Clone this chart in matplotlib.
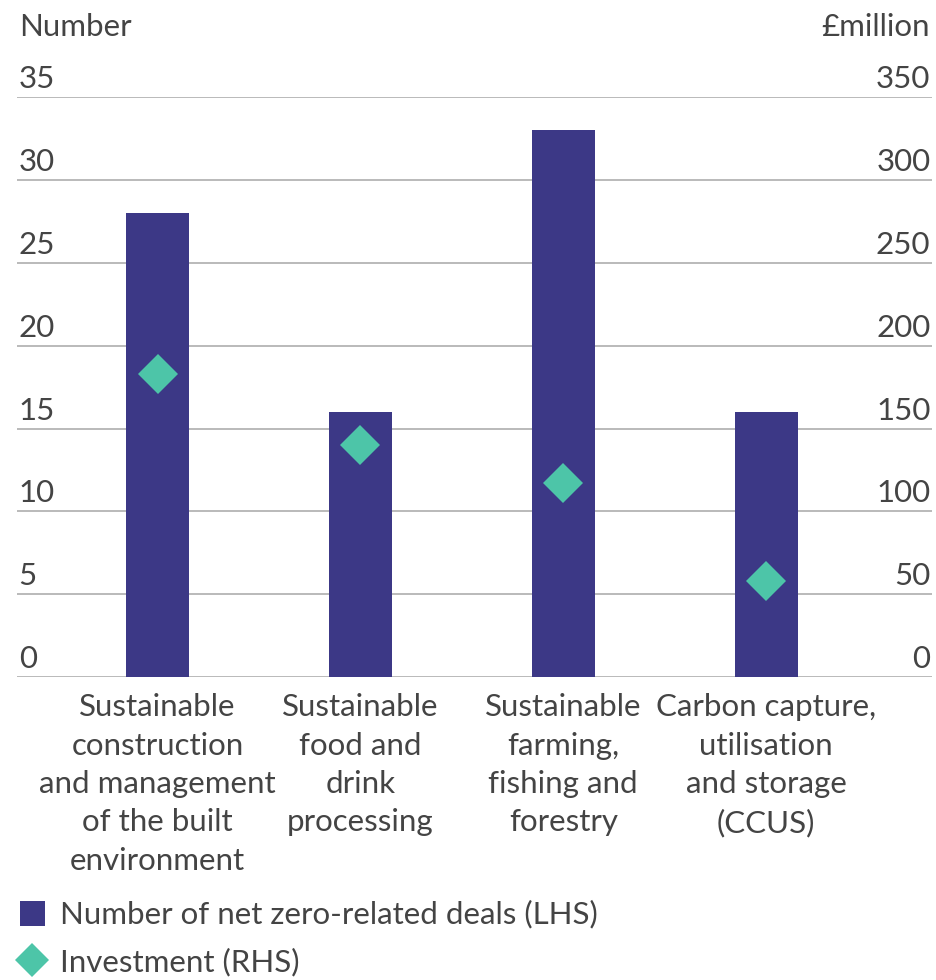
import matplotlib
matplotlib.use("Agg")
import matplotlib.pyplot as plt
from matplotlib.lines import Line2D
from matplotlib.transforms import blended_transform_factory, offset_copy

plt.rcParams['font.family'] = ['Lato', 'DejaVu Sans']

categories = [
    "Sustainable\nconstruction\nand management\nof the built\nenvironment",
    "Sustainable\nfood and\ndrink\nprocessing",
    "Sustainable\nfarming,\nfishing and\nforestry",
    "Carbon capture,\nutilisation\nand storage\n(CCUS)",
]
deals = [28, 16, 33, 16]            # number of deals (LHS)
investment = [183, 140, 117, 58]    # £million (RHS)
left_ticks = [0, 5, 10, 15, 20, 25, 30, 35]
right_ticks = [0, 50, 100, 150, 200, 250, 300, 350]

BAR = "#3C3886"
DIAMOND = "#4DC5A8"
TEXT = "#444444"
GRID = "#B4B4B4"
FS = 22.5
WEIGHT = "normal"

fig = plt.figure(figsize=(9.36, 9.8), dpi=100)
ax = fig.add_axes([0.018, 0.309, 0.978, 0.592])
ax2 = ax.twinx()

x = list(range(len(categories)))
ax.bar(x, deals, width=0.31, color=BAR, zorder=2)
ax.set_ylim(0, 35)
ax.set_xlim(-0.694, 3.819)
ax2.set_ylim(0, 350)
ax2.plot(x, investment, linestyle="none", marker="D", markersize=20.4,
         color=DIAMOND, markeredgewidth=0, zorder=3)

for a in (ax, ax2):
    for s in a.spines.values():
        s.set_visible(False)
    a.set_yticks([])
    a.set_xticks([])

# gridlines
for t in left_ticks:
    ax.axhline(t, color=GRID, linewidth=1.3, zorder=1)

# tick labels sitting above their gridlines
tl = offset_copy(blended_transform_factory(ax.transAxes, ax.transData), fig=fig, x=0, y=4, units="dots")
for t in left_ticks:
    ax.text(0.002, t, str(t), transform=tl, ha="left", va="bottom",
            fontsize=FS, color=TEXT, fontweight=WEIGHT)
tr = offset_copy(blended_transform_factory(ax2.transAxes, ax2.transData), fig=fig, x=0, y=4, units="dots")
for t in right_ticks:
    ax2.text(0.998, t, str(t), transform=tr, ha="right", va="bottom",
             fontsize=FS, color=TEXT, fontweight=WEIGHT)

# category labels
tc = offset_copy(blended_transform_factory(ax.transData, ax.transAxes), fig=fig, x=0, y=-16, units="dots")
for xi, c in zip(x, categories):
    ax.text(xi, 0, c, transform=tc, ha="center", va="top", fontsize=FS,
            color=TEXT, fontweight=WEIGHT, linespacing=1.45)

# axis titles
fig.text(19 / 936, 1 - 36 / 980, "Number", ha="left", va="baseline",
         fontsize=FS, color=TEXT, fontweight=WEIGHT)
fig.text(930 / 936, 1 - 36 / 980, "£million", ha="right", va="baseline",
         fontsize=FS, color=TEXT, fontweight=WEIGHT)

# legend
handles = [
    Line2D([], [], linestyle="none", marker="s", markersize=18, color=BAR, markeredgewidth=0),
    Line2D([], [], linestyle="none", marker="D", markersize=17, color=DIAMOND, markeredgewidth=0),
]
labels = ["Number of net zero-related deals (LHS)", "Investment (RHS)"]
leg = fig.legend(handles, labels, loc="upper left", bbox_to_anchor=(0.014, 1 - 900 / 980),
                 frameon=False, handlelength=1.2, handletextpad=0.3, labelspacing=0.6,
                 borderaxespad=0, borderpad=0, prop={"size": FS, "weight": WEIGHT})
for txt in leg.get_texts():
    txt.set_color(TEXT)

fig.savefig("out.png", dpi=100, facecolor="white")
